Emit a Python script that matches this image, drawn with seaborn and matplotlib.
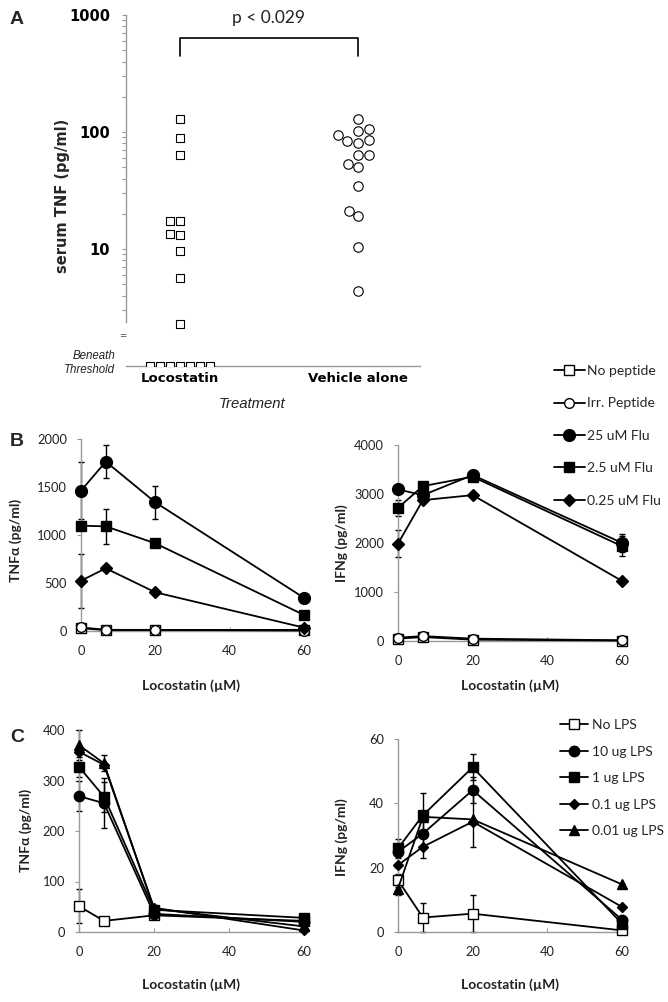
import numpy as np
import pandas as pd
import matplotlib
matplotlib.use("Agg")
import matplotlib.pyplot as plt
import seaborn as sns
from matplotlib.ticker import FixedLocator, NullFormatter

sns.set_style("white")
plt.rcParams["font.family"] = ["Lato", "DejaVu Sans"]

# ---------------- data ----------------
# Panel A: serum TNF (pg/ml), log scale; beneath-threshold values plotted at the floor
treatments = ["Locostatin", "Vehicle alone"]
loco_tnf = [128, 88, 63, 17.5, 17.3, 13.4, 13.3, 9.7, 5.7, 2.3]
loco_below_threshold_n = 7
vehicle_tnf = [128, 107, 102, 94, 85, 84, 81, 64, 64, 53.5, 50, 34.5, 21.3, 19, 10.5, 4.35]
below_threshold_value = 1.0
p_text = "p < 0.029"

# Panels B and C: x = Locostatin (uM)
locostatin = [0, 6.67, 20, 60]

b_labels = ["No peptide", "Irr. Peptide", "25 uM Flu", "2.5 uM Flu", "0.25 uM Flu"]
b_tnf = {
    "No peptide": [28, 10, 10, 12],
    "Irr. Peptide": [38, 12, 12, 5],
    "25 uM Flu": [1462, 1764, 1340, 345],
    "2.5 uM Flu": [1097, 1090, 913, 167],
    "0.25 uM Flu": [524, 653, 403, 35],
}
b_tnf_err = {
    "No peptide": [10, 5, 5, 0],
    "Irr. Peptide": [10, 5, 5, 0],
    "25 uM Flu": [300, 170, 175, 0],
    "2.5 uM Flu": [0, 180, 0, 0],
    "0.25 uM Flu": [280, 0, 0, 0],
}
b_ifn = {
    "No peptide": [48, 80, 27, 10],
    "Irr. Peptide": [68, 100, 48, 14],
    "25 uM Flu": [3093, 2977, 3386, 2003],
    "2.5 uM Flu": [2718, 3161, 3352, 1935],
    "0.25 uM Flu": [1989, 2875, 2977, 1226],
}
b_ifn_err = {
    "No peptide": [20, 20, 10, 0],
    "Irr. Peptide": [20, 30, 10, 0],
    "25 uM Flu": [0, 0, 0, 180],
    "2.5 uM Flu": [160, 0, 0, 200],
    "0.25 uM Flu": [280, 0, 0, 0],
}

c_labels = ["No LPS", "10 ug LPS", "1 ug LPS", "0.1 ug LPS", "0.01 ug LPS"]
c_tnf = {
    "No LPS": [51, 22, 33, 22],
    "10 ug LPS": [269, 255, 36, 20],
    "1 ug LPS": [327, 268, 44, 28],
    "0.1 ug LPS": [357, 331, 48, 3],
    "0.01 ug LPS": [370, 334, 46, 11],
}
c_tnf_err = {
    "No LPS": [34, 5, 0, 0],
    "10 ug LPS": [30, 50, 0, 0],
    "1 ug LPS": [20, 30, 0, 0],
    "0.1 ug LPS": [0, 0, 0, 0],
    "0.01 ug LPS": [30, 16, 0, 0],
}
c_ifn = {
    "No LPS": [16.1, 4.5, 5.7, 0.5],
    "10 ug LPS": [24.9, 30.6, 44.1, 3.8],
    "1 ug LPS": [26, 36.3, 51.2, 2.6],
    "0.1 ug LPS": [20.8, 26.5, 34.3, 7.8],
    "0.01 ug LPS": [13.5, 35.8, 35, 14.8],
}
c_ifn_err = {
    "No LPS": [2, 4.5, 5.8, 0],
    "10 ug LPS": [0, 4, 4, 0],
    "1 ug LPS": [3, 7, 4, 0],
    "0.1 ug LPS": [0, 3.5, 0, 0],
    "0.01 ug LPS": [2, 0, 8.5, 0],
}

# ---------------- styles ----------------
b_styles = {
    "No peptide": dict(marker="s", ms=6.5, fc="white"),
    "Irr. Peptide": dict(marker="o", ms=7.0, fc="white"),
    "25 uM Flu": dict(marker="o", ms=8.5, fc="black"),
    "2.5 uM Flu": dict(marker="s", ms=7.2, fc="black"),
    "0.25 uM Flu": dict(marker="D", ms=6.0, fc="black"),
}
c_styles = {
    "No LPS": dict(marker="s", ms=7.0, fc="white"),
    "10 ug LPS": dict(marker="o", ms=7.5, fc="black"),
    "1 ug LPS": dict(marker="s", ms=7.0, fc="black"),
    "0.1 ug LPS": dict(marker="D", ms=5.3, fc="black"),
    "0.01 ug LPS": dict(marker="^", ms=7.8, fc="black"),
}

W, H = 668, 1002
fig = plt.figure(figsize=(W / 100, H / 100), dpi=100)


def fx(x):
    return x / W


def fy(y):
    return 1 - y / H


def axes_px(l, t, r, b):
    return fig.add_axes([l / W, 1 - b / H, (r - l) / W, (b - t) / H])


SPINE = "#999999"
TXT = "#222222"

# ---------------- Panel A ----------------
axA = axes_px(126, 15, 420, 366)
axA.set_yscale("log")
axA.set_ylim(1, 1000)
axA.set_xlim(-0.303, 1.348)

dfA_loco = pd.DataFrame({
    "treatment": ["Locostatin"] * (len(loco_tnf) + loco_below_threshold_n),
    "tnf": loco_tnf + [below_threshold_value] * loco_below_threshold_n,
})
dfA_veh = pd.DataFrame({"treatment": ["Vehicle alone"] * len(vehicle_tnf), "tnf": vehicle_tnf})

sns.swarmplot(data=dfA_loco, x="treatment", y="tnf", order=treatments, marker="s",
              size=6.0, color="white", edgecolor="black", linewidth=0.8, ax=axA)
sns.swarmplot(data=dfA_veh, x="treatment", y="tnf", order=treatments, marker="o",
              size=6.8, color="white", edgecolor="black", linewidth=0.8, ax=axA)
axA.set_yscale("log")
axA.set_ylim(1, 1000)
axA.set_xlim(-0.303, 1.348)
for s in ["top", "right"]:
    axA.spines[s].set_visible(False)
for s in ["left", "bottom"]:
    axA.spines[s].set_color(SPINE)
    axA.spines[s].set_linewidth(1.0)
axA.spines["left"].set_bounds(2.4, 1000)
axA.yaxis.set_major_locator(FixedLocator([10, 100, 1000]))
axA.yaxis.set_minor_locator(FixedLocator([3, 4, 5, 6, 7, 8, 9,
                                          20, 30, 40, 50, 60, 70, 80, 90,
                                          200, 300, 400, 500, 600, 700, 800, 900]))
axA.yaxis.set_minor_formatter(NullFormatter())
axA.set_yticklabels(["10", "100", "1000"], fontfamily="DejaVu Sans", fontweight="bold",
                    fontsize=10.5, color="black")
axA.tick_params(axis="y", which="both", direction="out", length=3, width=0.8,
                color=SPINE, pad=8.5, left=True)
axA.set_xticks([0, 1])
axA.set_xticklabels(treatments, fontfamily="DejaVu Sans", fontweight="bold",
                    fontsize=9.5, color="black")
axA.tick_params(axis="x", length=0, pad=4)
axA.set_xlabel("")
axA.set_ylabel("")

bracket_top, bracket_bottom = 635, 447
axA.plot([0, 0, 1, 1], [bracket_bottom, bracket_top, bracket_top, bracket_bottom],
         color="black", lw=1.2, clip_on=False)
axA.text(0.5, 940, p_text, ha="center", va="center", fontsize=12.5, color=TXT)

fig.text(fx(62), fy(196), "serum TNF (pg/ml)", rotation=90, ha="center", va="center",
         fontfamily="DejaVu Sans", fontweight="bold", fontsize=10.5)
fig.text(fx(115), fy(363), "Beneath\nThreshold", ha="right", va="center",
         fontfamily="Liberation Sans", fontstyle="italic", fontsize=8.3,
         linespacing=1.25, color=TXT)
fig.text(fx(123), fy(336), "=", ha="center", va="center", fontsize=9, color="#666666")
fig.text(fx(252), fy(404), "Treatment", ha="center", va="center",
         fontfamily="Liberation Sans", fontstyle="italic", fontsize=10.7, color=TXT)

for letter, (x, y) in {"A": (17, 20), "B": (17, 442), "C": (17, 737)}.items():
    fig.text(fx(x), fy(y), letter, ha="center", va="center",
             fontfamily="Liberation Sans", fontweight="bold", fontsize=14)


# ---------------- line panels ----------------
def line_panel(ax, data, errs, labels, styles, yticks):
    handles = []
    for name in labels:
        st = styles[name]
        ax.errorbar(locostatin, data[name], yerr=errs[name], fmt="none", ecolor="black",
                    elinewidth=1.0, capsize=2.5, capthick=1.0, zorder=2, clip_on=False)
        sns.lineplot(x=locostatin, y=data[name], ax=ax, color="black", lw=1.3,
                     marker=st["marker"], markersize=st["ms"], markerfacecolor=st["fc"],
                     markeredgecolor="black", markeredgewidth=1.0, clip_on=False,
                     zorder=3, errorbar=None, sort=False, legend=False)
        line = ax.lines[-1]
        line.set_label(name)
        handles.append(line)
    ax.set_xlim(0, 60)
    ax.set_ylim(yticks[0], yticks[-1])
    ax.set_xticks([0, 20, 40, 60])
    ax.set_yticks(yticks)
    ax.set_xticklabels([str(v) for v in [0, 20, 40, 60]], fontsize=9.3, color=TXT)
    ax.set_yticklabels([str(v) for v in yticks], fontsize=9.3, color=TXT)
    for s in ["top", "right"]:
        ax.spines[s].set_visible(False)
    for s in ["left", "bottom"]:
        ax.spines[s].set_color(SPINE)
        ax.spines[s].set_linewidth(1.0)
    ax.tick_params(axis="y", direction="out", length=3, width=0.8, color=SPINE, pad=7, left=True)
    ax.tick_params(axis="x", direction="in", length=3, width=0.8, color=SPINE, pad=10, bottom=True)
    ax.set_xlabel("")
    ax.set_ylabel("")
    if ax.get_legend() is not None:
        ax.get_legend().remove()
    return handles


axBL = axes_px(81, 439, 304, 631)
hB = line_panel(axBL, b_tnf, b_tnf_err, b_labels, b_styles, [0, 500, 1000, 1500, 2000])
axBR = axes_px(398, 445, 622, 641)
line_panel(axBR, b_ifn, b_ifn_err, b_labels, b_styles, [0, 1000, 2000, 3000, 4000])
axCL = axes_px(79, 730, 304, 932)
hC = line_panel(axCL, c_tnf, c_tnf_err, c_labels, c_styles, [0, 100, 200, 300, 400])
axCR = axes_px(398, 739, 622, 932)
line_panel(axCR, c_ifn, c_ifn_err, c_labels, c_styles, [0, 20, 40, 60])

lab_kw = dict(ha="center", va="center", fontweight="bold", fontsize=10, color=TXT)
fig.text(fx(16), fy(540), "TNF\u03b1 (pg/ml)", rotation=90, **lab_kw)
fig.text(fx(342), fy(543), "IFNg (pg/ml)", rotation=90, **lab_kw)
fig.text(fx(26), fy(830), "TNF\u03b1 (pg/ml)", rotation=90, **lab_kw)
fig.text(fx(342), fy(837), "IFNg (pg/ml)", rotation=90, **lab_kw)
for x, y in [(191, 686), (510, 686), (191, 985), (510, 985)]:
    fig.text(fx(x), fy(y), "Locostatin (\u00b5M)", **lab_kw)

fig.legend(handles=hB, labels=b_labels, loc="upper left", bbox_to_anchor=(fx(554), fy(365)),
           frameon=False, fontsize=10, handlelength=2.2, handletextpad=0.2,
           labelspacing=1.47, borderpad=0, borderaxespad=0)
fig.legend(handles=hC, labels=c_labels, loc="upper left", bbox_to_anchor=(fx(560), fy(719)),
           frameon=False, fontsize=10, handlelength=2.0, handletextpad=0.3,
           labelspacing=1.05, borderpad=0, borderaxespad=0)

fig.savefig("out.png", dpi=100)
